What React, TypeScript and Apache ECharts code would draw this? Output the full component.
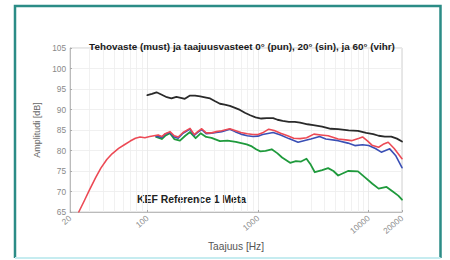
import React, { useEffect, useRef } from "react";
import * as echarts from "echarts";

const titleText = "Tehovaste (must) ja taajuusvasteet 0° (pun), 20° (sin), ja 60° (vihr)";
const annotation = "KEF Reference 1 Meta";
const xName = "Taajuus [Hz]";
const yName = "Amplitudi [dB]";

const redFreq = [24, 27, 30, 34, 38, 43, 48, 55, 62, 70, 78, 86, 95, 105, 115, 125, 135, 145, 160, 175, 190, 210, 243, 265, 285, 310, 340, 380, 420, 470, 556, 620, 700, 800, 900, 1000, 1100, 1250, 1400, 1600, 1850, 2100, 2400, 2750, 3200, 3700, 4300, 5300, 6200, 7000, 8200, 8800, 9800, 10700, 12300, 13500, 15000, 17000, 20000];
const redVal = [65, 67.8, 70.4, 73.3, 75.7, 77.8, 79.2, 80.5, 81.4, 82.3, 83.0, 83.3, 83.1, 83.4, 83.6, 83.8, 83.4, 84.1, 84.6, 83.6, 83.3, 84.4, 85.4, 83.9, 84.6, 85.3, 84.3, 84.3, 84.6, 84.8, 85.3, 84.9, 84.4, 84.1, 83.9, 83.9, 84.3, 85.2, 84.9, 84.2, 83.6, 83.0, 82.9, 83.1, 84.0, 83.8, 83.6, 82.8, 82.6, 82.4, 83.0, 83.3, 82.3, 81.3, 80.8, 81.5, 82.0, 80.5, 78.0];

const blueFreq = [120, 135, 145, 160, 175, 190, 210, 243, 265, 285, 310, 340, 380, 420, 470, 556, 620, 700, 800, 900, 1000, 1100, 1370, 1600, 1900, 2300, 2700, 3000, 3600, 4100, 5300, 6500, 7500, 8800, 10000, 11500, 13000, 15500, 17500, 20000];
const blueVal = [83.5, 83.2, 84.0, 84.4, 83.3, 83.0, 84.2, 85.2, 83.7, 84.4, 85.1, 84.1, 84.2, 84.4, 84.6, 85.2, 84.6, 84.0, 83.6, 83.4, 83.5, 83.9, 84.4, 83.8, 82.9, 82.0, 82.5, 82.8, 83.4, 82.8, 82.4, 81.8, 81.2, 81.4, 81.2, 80.5, 79.6, 80.4, 78.8, 75.8];

const greenFreq = [120, 135, 145, 160, 175, 197, 220, 243, 273, 303, 340, 380, 453, 530, 630, 790, 880, 960, 1050, 1170, 1330, 1500, 1650, 1950, 2200, 2450, 2740, 3000, 3260, 3800, 4300, 4800, 5300, 6500, 8000, 9200, 10800, 12300, 14500, 16500, 18500, 20000];
const greenVal = [83.3, 82.8, 83.6, 84.2, 82.8, 82.4, 83.6, 84.5, 83.0, 84.2, 83.3, 83.1, 82.3, 82.4, 82.1, 81.5, 81.0, 80.3, 79.8, 79.9, 80.3, 79.3, 78.3, 77.0, 77.4, 77.3, 78.0, 76.5, 74.7, 75.2, 75.7, 75.0, 73.9, 75.0, 74.9, 73.5, 71.9, 70.7, 71.1, 70.0, 69.0, 68.0];

const blackFreq = [100, 110, 121, 135, 150, 165, 183, 205, 218, 243, 270, 300, 340, 369, 410, 453, 500, 556, 620, 687, 760, 850, 950, 1070, 1200, 1370, 1500, 1670, 1900, 2150, 2400, 2800, 3160, 3800, 4540, 5300, 6600, 8000, 9500, 11000, 12300, 14000, 16000, 18000, 20000];
const blackVal = [93.5, 93.8, 94.2, 93.6, 93.0, 92.7, 93.1, 92.8, 92.6, 93.4, 93.4, 93.2, 92.9, 92.7, 92.0, 91.4, 91.2, 90.9, 90.4, 89.9, 89.2, 88.6, 88.1, 87.8, 87.9, 87.9, 87.5, 87.2, 87.0, 87.0, 86.8, 86.4, 86.2, 85.8, 85.3, 85.2, 84.9, 84.8, 84.3, 84.0, 83.6, 83.4, 83.4, 82.9, 82.2];

const minorGridFreqs = [30, 40, 50, 60, 70, 80, 90, 200, 300, 400, 500, 600, 700, 800, 900, 2000, 3000, 4000, 5000, 6000, 7000, 8000, 9000];

const pairs = (f: number[], v: number[]) => f.map((x, i) => [x, v[i]]);

export default function App() {
  const ref = useRef<HTMLDivElement>(null);
  useEffect(() => {
    if (!ref.current) return;
    const chart = echarts.init(ref.current, null, { renderer: "svg" });
    const font = "Liberation Sans, Arial, sans-serif";
    const lineSeries = (name: string, f: number[], v: number[], color: string, width: number, z: number) => ({
      type: "line",
      name,
      z,
      data: pairs(f, v),
      showSymbol: false,
      symbol: "none",
      smooth: false,
      lineStyle: { color, width, cap: "round", join: "round" },
    });
    chart.setOption({
      animation: false,
      backgroundColor: "#ffffff",
      textStyle: { fontFamily: font },
      title: {
        text: titleText,
        left: 237,
        textAlign: "center",
        top: 36,
        textStyle: { fontSize: 9.9, fontWeight: "bold", color: "#1a1a1a", fontFamily: font },
      },
      grid: {
        left: 70,
        right: 48,
        top: 48,
        bottom: 48,
        show: true,
        borderColor: "#d0d0d0",
        borderWidth: 1,
      },
      xAxis: {
        type: "log",
        logBase: 10,
        min: 20,
        max: 20000,
        name: xName,
        nameLocation: "middle",
        nameGap: 28,
        nameTextStyle: { fontSize: 10.2, color: "#555", fontFamily: font },
        axisLine: { show: true, lineStyle: { color: "#bbb" } },
        axisTick: { show: true, inside: true, length: 2, lineStyle: { color: "#aaa" } },
        axisLabel: {
          rotate: 40,
          fontSize: 8.3,
          color: "#888",
          margin: 5,
          fontFamily: font,
          formatter: (v: number) => String(Math.round(v)),
        },
        splitLine: { show: true, lineStyle: { color: "#e6e6e6", width: 0.8 } },
      },
      yAxis: {
        type: "value",
        min: 65,
        max: 105,
        interval: 5,
        name: yName,
        nameLocation: "middle",
        nameGap: 24,
        nameTextStyle: { fontSize: 9, color: "#666", fontFamily: font },
        axisLine: { show: true, lineStyle: { color: "#bbb" } },
        axisTick: { show: true, inside: true, length: 2, lineStyle: { color: "#aaa" } },
        axisLabel: { fontSize: 8.3, color: "#888", margin: 4, fontFamily: font },
        splitLine: { show: true, lineStyle: { color: "#ececec", width: 0.8 } },
      },
      graphic: [
        {
          type: "polyline",
          shape: { points: [[15, 258], [15, 6], [440.5, 6], [440.5, 258]] },
          style: { stroke: "#2b8c86", lineWidth: 2.5, fill: "none" },
        },
        {
          type: "line",
          shape: { x1: 15, y1: 258, x2: 440.5, y2: 258 },
          style: { stroke: "#c6ecf0", lineWidth: 2 },
        },
        {
          type: "text",
          left: 137,
          top: 194,
          style: { text: annotation, fontSize: 10.4, fontWeight: "bold", fill: "#222", fontFamily: font },
        },
      ],
      series: [
        {
          type: "line",
          name: "grid",
          data: [],
          silent: true,
          z: 0,
          markLine: {
            silent: true,
            z: 0,
            symbol: ["none", "none"],
            label: { show: false },
            lineStyle: { color: "#ededed", width: 0.8, type: "solid" },
            data: minorGridFreqs.map((f) => ({ xAxis: f })),
          },
        },
        lineSeries("must", blackFreq, blackVal, "#2a2a2a", 1.8, 10),
        lineSeries("vihr", greenFreq, greenVal, "#1f9a3c", 1.8, 11),
        lineSeries("sin", blueFreq, blueVal, "#3a4fb5", 1.6, 12),
        lineSeries("pun", redFreq, redVal, "#ec4a55", 1.6, 13),
      ],
    });
    return () => chart.dispose();
  }, []);
  return (
    <div
      ref={ref}
      style={{ position: "fixed", left: 0, top: 0, width: 450, height: 260, background: "#fff" }}
    />
  );
}
